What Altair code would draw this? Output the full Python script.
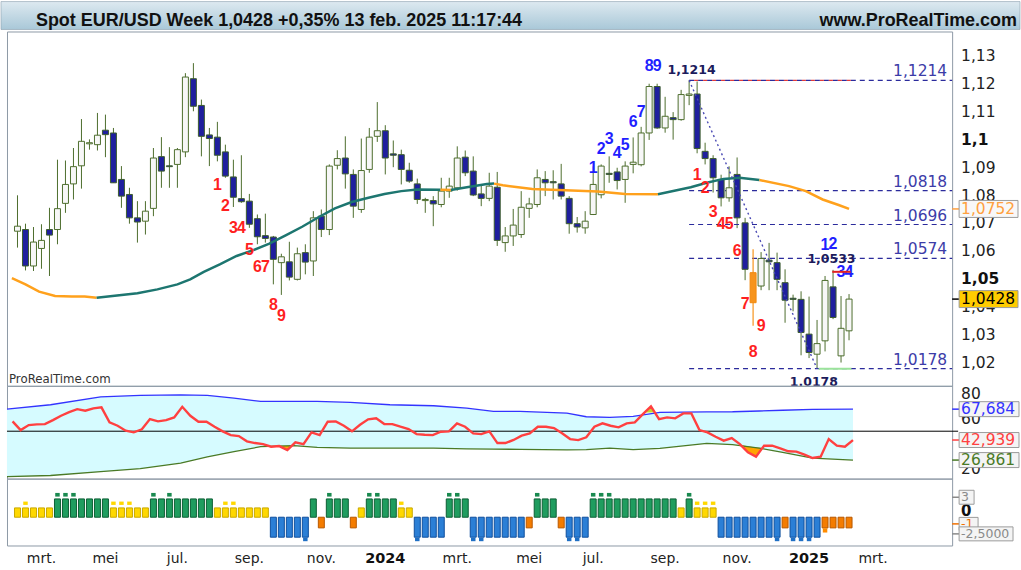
import altair as alt
import pandas as pd

# ---------------- candles (weekly EUR/USD, index 0 = week of 13 feb 2023) ----------------
opens = [1.0672, 1.0678, 1.0547, 1.0610, 1.0678, 1.0678, 1.0772, 1.0842, 1.0907, 1.0986,
         1.0983, 1.1035, 1.1025, 1.0858, 1.0804, 1.0720, 1.0708, 1.0754, 1.0940, 1.0907,
         1.0912, 1.0957, 1.1220, 1.1124, 1.1018, 1.1010, 1.0957, 1.0867, 1.0789, 1.0780,
         1.0717, 1.0656, 1.0651, 1.0559, 1.0562, 1.0499, 1.0595, 1.0565, 1.0726, 1.0678,
         1.0909, 1.0935, 1.0876, 1.0750, 1.0894, 1.1013, 1.1033, 1.0950, 1.0947, 1.0891,
         1.0842, 1.0782, 1.0782, 1.0768, 1.0816, 1.0828, 1.0938, 1.0888, 1.0806, 1.0790,
         1.0830, 1.0631, 1.0655, 1.0660, 1.0754, 1.0768, 1.0858, 1.0850, 1.0842, 1.0790,
         1.0699, 1.0684, 1.0732, 1.0803, 1.0880, 1.0885, 1.0858, 1.0912, 1.0911, 1.1025,
         1.1192, 1.1043, 1.1080, 1.1073, 1.1160, 1.1165, 1.0959, 1.0933, 1.0858, 1.0792,
         1.0876, 1.0702, 1.0523, 1.0475, 1.0568, 1.0559, 1.0487, 1.0431, 1.0427, 1.0302,
         1.0230, 1.0278, 1.0472, 1.0224, 1.0314]
highs = [1.0801, 1.0699, 1.0687, 1.0697, 1.0756, 1.0929, 1.0926, 1.0971, 1.1075, 1.1002,
         1.1097, 1.1091, 1.1043, 1.0906, 1.0828, 1.0780, 1.0780, 1.0971, 1.1010, 1.0974,
         1.0971, 1.1240, 1.1276, 1.1145, 1.1043, 1.1065, 1.0983, 1.0929, 1.0945, 1.0806,
         1.0732, 1.0735, 1.0655, 1.0591, 1.0634, 1.0613, 1.0625, 1.0744, 1.0750, 1.0912,
         1.0963, 1.1013, 1.0894, 1.1005, 1.1043, 1.1136, 1.1053, 1.0998, 1.0965, 1.0918,
         1.0861, 1.0792, 1.0798, 1.0864, 1.0864, 1.0977, 1.0962, 1.0941, 1.0840, 1.0882,
         1.0885, 1.0687, 1.0752, 1.0816, 1.0792, 1.0894, 1.0888, 1.0891, 1.0914, 1.0798,
         1.0723, 1.0744, 1.0905, 1.0912, 1.0941, 1.0900, 1.0923, 1.1009, 1.1047, 1.1202,
         1.1202, 1.1155, 1.1100, 1.1180, 1.1214, 1.1210, 1.0990, 1.0945, 1.0875, 1.0905,
         1.0937, 1.0720, 1.0607, 1.0597, 1.0630, 1.0595, 1.0535, 1.0444, 1.0456, 1.0437,
         1.0353, 1.0511, 1.0533, 1.0439, 1.0446]
lows = [1.0613, 1.0531, 1.0529, 1.0537, 1.0511, 1.0625, 1.0738, 1.0786, 1.0825, 1.0965,
        1.0962, 1.0938, 1.0846, 1.0756, 1.0699, 1.0631, 1.0660, 1.0726, 1.0828, 1.0828,
        1.0828, 1.0938, 1.1103, 1.0941, 1.0906, 1.0923, 1.0864, 1.0759, 1.0774, 1.0684,
        1.0625, 1.0631, 1.0481, 1.0443, 1.0495, 1.0495, 1.0517, 1.0511, 1.0651, 1.0658,
        1.0894, 1.0825, 1.0720, 1.0738, 1.0882, 1.0993, 1.0876, 1.0902, 1.0840, 1.0846,
        1.0770, 1.0738, 1.0690, 1.0758, 1.0792, 1.0818, 1.0870, 1.0798, 1.0762, 1.0780,
        1.0619, 1.0598, 1.0619, 1.0648, 1.0720, 1.0758, 1.0798, 1.0786, 1.0786, 1.0663,
        1.0667, 1.0663, 1.0730, 1.0790, 1.0846, 1.0822, 1.0774, 1.0880, 1.0905, 1.1000,
        1.1040, 1.1026, 1.1001, 1.1069, 1.1125, 1.0952, 1.0912, 1.0811, 1.0761, 1.0778,
        1.0683, 1.0496, 1.0332, 1.0460, 1.0460, 1.0460, 1.0343, 1.0384, 1.0226, 1.0216,
        1.0178, 1.0240, 1.0356, 1.0200, 1.0280]
closes = [1.0690, 1.0547, 1.0633, 1.0639, 1.0658, 1.0753, 1.0840, 1.0904, 1.0995, 1.0990,
          1.1017, 1.1019, 1.0846, 1.0798, 1.0720, 1.0705, 1.0744, 1.0935, 1.0888, 1.0904,
          1.0965, 1.1226, 1.1121, 1.1013, 1.1005, 1.0945, 1.0870, 1.0794, 1.0778, 1.0697,
          1.0652, 1.0646, 1.0571, 1.0580, 1.0507, 1.0591, 1.0561, 1.0720, 1.0678, 1.0906,
          1.0933, 1.0878, 1.0762, 1.0890, 1.1010, 1.1033, 1.0935, 1.0945, 1.0894, 1.0852,
          1.0786, 1.0786, 1.0770, 1.0816, 1.0834, 1.0935, 1.0882, 1.0802, 1.0790, 1.0834,
          1.0639, 1.0655, 1.0694, 1.0758, 1.0770, 1.0864, 1.0846, 1.0846, 1.0798, 1.0699,
          1.0687, 1.0708, 1.0840, 1.0906, 1.0876, 1.0854, 1.0906, 1.0920, 1.1025, 1.1192,
          1.1043, 1.1085, 1.1073, 1.1163, 1.1165, 1.0969, 1.0933, 1.0864, 1.0792, 1.0828,
          1.0720, 1.0535, 1.0415, 1.0574, 1.0562, 1.0499, 1.0424, 1.0427, 1.0308, 1.0236,
          1.0268, 1.0495, 1.0362, 1.0323, 1.0428]
highlight_idx = [92]

# ---------------- moving average ----------------
ma_idx = [-0.7, 1.0, 2.7, 4.7, 6.8, 8.4, 9.9, 15.0, 17.5, 20.0, 21.6, 23.3, 25.3, 27.4, 29.4,
          31.5, 33.6, 35.6, 37.7, 39.7, 41.8, 43.9, 45.9, 48.0, 50.0, 52.9, 54.2, 56.2, 58.7,
          59.6, 60.7, 64.4, 68.5, 72.6, 76.0, 80.1, 84.2, 86.2, 88.3, 90.3, 92.8, 96.5, 98.6,
          100.7, 102.7, 104.0]
ma_val = [1.0503, 1.0481, 1.0455, 1.0439, 1.0437, 1.0437, 1.0433, 1.0449, 1.0463, 1.0481,
          1.0499, 1.0526, 1.0553, 1.0583, 1.0603, 1.0627, 1.0658, 1.0688, 1.0723, 1.0754,
          1.0777, 1.0792, 1.0806, 1.0816, 1.0822, 1.0821, 1.0820, 1.0830, 1.0842, 1.0843,
          1.0837, 1.0824, 1.0819, 1.0815, 1.0806, 1.0805, 1.0830, 1.0846, 1.0860, 1.0864,
          1.0856, 1.0834, 1.0816, 1.0786, 1.0766, 1.0752]
ma_turns = [9.9, 52.9, 54.2, 59.6, 80.1, 92.8]

# ---------------- retracement levels ----------------
level_vals = [1.1214, 1.0818, 1.0696, 1.0574, 1.0178]
level_text = ["1,1214", "1,0818", "1,0696", "1,0574", "1,0178"]
level_start = 84
swing_idx = [84, 100]
swing_val = [1.1214, 1.0178]

# ---------------- sequential counts ----------------
td_idx = [25, 26, 27, 28, 29, 30, 31, 32, 33,
          72, 73, 74, 75, 76, 77, 78, 79, 80,
          85, 86, 87, 88, 89, 90, 91, 92, 93,
          101, 102, 103, 104]
td_txt = ["1", "2", "3", "4", "5", "6", "7", "8", "9",
          "1", "2", "3", "4", "5", "6", "7", "8", "9",
          "1", "2", "3", "4", "5", "6", "7", "8", "9",
          "1", "2", "3", "4"]
td_val = [1.0837, 1.0762, 1.0683, 1.0683, 1.0604, 1.0543, 1.0543, 1.0407, 1.0368,
          1.0898, 1.0967, 1.1002, 1.0952, 1.0981, 1.1063, 1.1099, 1.1264, 1.1264,
          1.0873, 1.0826, 1.0740, 1.0698, 1.0698, 1.0601, 1.0411, 1.0238, 1.0332,
          1.0622, 1.0626, 1.0525, 1.0525]
td_side = ["sell"] * 9 + ["buy"] * 9 + ["sell"] * 9 + ["buy"] * 4

note_idx = [84.3, 101.8]
note_val = [1.1253, 1.0572]
note_txt = ["1,1214", "1,0533"]
low_note_idx = [99.6]
low_note_val = [1.0131]
low_note_txt = ["1,0178"]
risk_idx = [101.9, 104.2]
risk_val = [1.0526, 1.0526]

price_ticks = [1.02, 1.03, 1.04, 1.05, 1.06, 1.07, 1.08, 1.09, 1.1, 1.11, 1.12, 1.13]
price_labels = ["1,02", "1,03", "1,04", "1,05", "1,06", "1,07", "1,08", "1,09", "1,1", "1,11", "1,12", "1,13"]
price_bold = [False, False, False, True, False, False, False, False, True, False, False, False]

month_idx = [3, 11, 20, 29, 38, 46, 55, 64, 72, 81, 90, 99, 107]
month_lab = ["mrt.", "mei", "jul.", "sep.", "nov.", "2024", "mrt.", "mei", "jul.", "sep.", "nov.", "2025", "mrt."]
month_bold = [False, False, False, False, False, True, False, False, False, False, False, True, False]

# ---------------- oscillator panel ----------------
rsi = [57.9, 50.9, 54.9, 55.5, 55.7, 58.9, 62.4, 65.3, 67.7, 66.4,
       68.3, 69.1, 57.1, 54.4, 50.4, 49.1, 51.5, 59.7, 57.9, 58.9,
       61.1, 69.6, 62.4, 57.6, 57.6, 53.6, 49.9, 46.9, 46.1, 41.9,
       40.5, 39.7, 37.6, 38.1, 34.9, 41.1, 39.7, 49.1, 46.9, 57.6,
       57.9, 54.4, 49.9, 55.2, 59.5, 60.3, 55.7, 55.7, 53.6, 51.7,
       47.7, 47.2, 46.9, 49.6, 49.9, 56.3, 53.6, 48.3, 47.7, 49.9,
       40.5, 40.5, 43.0, 46.4, 48.3, 53.6, 53.6, 52.5, 48.3, 43.7,
       42.9, 45.1, 53.6, 56.3, 54.4, 53.1, 56.3, 57.1, 63.7, 69.9,
       59.7, 61.1, 60.3, 64.3, 64.3, 50.9, 49.1, 45.6, 42.4, 44.5,
       39.7, 33.1, 29.6, 38.4, 38.4, 36.3, 33.9, 33.6, 31.2, 28.5,
       29.6, 43.7, 38.4, 37.6, 42.9]
band_idx = [-0.7, 4.7, 10.9, 15.8, 20.8, 24.1, 27.4, 30.7, 34.8, 37.7, 41.8, 46.7, 52.1, 56.2,
            59.5, 62.8, 68.6, 71.0, 73.9, 76.8, 80.1, 85.9, 89.1, 92.4, 95.3, 99.0, 104.0]
band_up = [67.7, 71.2, 77.6, 78.7, 79.2, 78.7, 76.5, 73.9, 73.9, 73.9, 73.1, 71.2, 70.4, 68.5,
           65.9, 65.9, 64.5, 61.6, 61.1, 61.9, 65.1, 65.5, 65.6, 66.2, 66.8, 67.5, 67.7]
band_lo = [13.6, 14.5, 17.6, 20.0, 24.5, 29.5, 33.6, 37.6, 38.4, 37.0, 36.5, 36.5, 36.5, 35.8,
           35.6, 35.5, 35.0, 35.2, 36.5, 35.2, 36.3, 40.3, 39.2, 36.5, 33.1, 28.5, 26.9]
under_idx = [33.1, 34.0, 34.6, 90.1, 91.0, 92.0, 92.8]
under_band = [38.3, 38.4, 38.4, 39.0, 38.0, 37.0, 36.6]
under_rsi = [38.3, 34.9, 38.4, 39.0, 33.1, 29.6, 36.6]
under_zone = [1, 1, 1, 2, 2, 2, 2]
over_idx = [78.3, 79.0, 79.5]
over_band = [65.0, 65.0, 65.1]
over_rsi = [65.0, 69.9, 65.1]
osc_ticks = [20, 40, 60, 80]
osc_label_ticks = [20, 60, 80]

# ---------------- trend histogram ----------------
hist_codes = ["Y", "Yd", "Y", "Y", "Y", "Gd", "Gd", "Gd", "G", "G",
              "G", "G", "Yd", "Yd", "Yd", "Y", "Y", "Gd", "G", "Gd",
              "G", "G", "G", "G", "G", "Y", "Yd", "Yd", "Y", "Y",
              "Y", "Y", "B", "B", "B", "B", "Bd", "G", "O", "Gd",
              "G", "G", "O", "Y", "Gd", "Gd", "G", "G", "Yd", "Y",
              "Bd", "B", "B", "B", "Gd", "Gd", "G", "Bd", "Bd", "B",
              "B", "B", "B", "B", "O", "Gd", "G", "G", "O", "Bd",
              "Bd", "B", "Gd", "Gd", "Gd", "G", "G", "G", "G", "G",
              "G", "G", "G", "Y", "Gd", "Yd", "Yd", "Yd", "B", "B",
              "B", "B", "B", "B", "B", "Bd", "O", "Bd", "Bd", "Bd",
              "B", "Od", "O", "O", "O"]
bar_level = {"Y": 1.4, "G": 2.75, "B": -3.0, "O": -1.6}
dot_from = {"Y": 1.85, "G": 3.1, "B": -3.05, "O": -1.65}
dot_to = {"Y": 2.35, "G": 3.65, "B": -3.6, "O": -2.3}

# ---------------- layout / style ----------------
W = 947
H1, H2, H3 = 355, 93, 67
X_DOM = [-0.69, 116.27]
P_DOM = [1.01164, 1.13897]
R_DOM = [12.0, 86.4]
S_DOM = [-4.245, 5.8]
UI = "DejaVu Sans"
SANS = "Liberation Sans"
GRID = "#e3e3e3"
TICK = "#8a8a8a"

xs = alt.Scale(domain=X_DOM, nice=False, zero=False)
ps = alt.Scale(domain=P_DOM, nice=False, zero=False)
rs = alt.Scale(domain=R_DOM, nice=False, zero=False)
ss = alt.Scale(domain=S_DOM, nice=False, zero=False)


def X(f="i", axis=None):
    return alt.X(f + ":Q", scale=xs, axis=axis)


def YP(f, axis=None):
    return alt.Y(f + ":Q", scale=ps, axis=axis)


def YR(f, axis=None):
    return alt.Y(f + ":Q", scale=rs, axis=axis)


def YS(f, axis=None):
    return alt.Y(f + ":Q", scale=ss, axis=axis)


def xaxis(ticks=False):
    return alt.Axis(values=month_idx, grid=True, gridColor=GRID, labels=False, ticks=ticks,
                    tickSize=5, tickColor=TICK, domain=False, title=None)


def yaxis(vals):
    return alt.Axis(orient="right", values=vals, grid=True, gridColor=GRID, labels=False, ticks=True,
                    tickSize=5, tickColor=TICK, domain=False, title=None)


def value_box(yfn, val, txt, tcolor, fill, bw, fs=15.5, hh=8.5):
    d = pd.DataFrame({"v": [val], "t": [txt]})
    b = alt.Chart(d)
    return [
        b.mark_rule(color=tcolor, strokeWidth=1.5).encode(x=alt.value(W), x2=alt.value(W + 7), y=yfn("v")),
        b.mark_rect(fill=fill, stroke="#9c9c9c", strokeWidth=1, yOffset=-hh, y2Offset=hh).encode(
            x=alt.value(W + 7), x2=alt.value(W + 7 + bw), y=yfn("v"), y2="v:Q"),
        b.mark_text(font=UI, fontSize=fs, align="left", baseline="middle", color=tcolor).encode(
            x=alt.value(W + 9), y=yfn("v"), text="t:N"),
    ]


one = pd.DataFrame({"k": [0]})

# ================= main price panel =================
cdf = pd.DataFrame({"i": list(range(len(opens))), "open": opens, "high": highs, "low": lows, "close": closes})
cdf["kind"] = ["hl" if i in highlight_idx else ("up" if c >= o else "down")
               for i, o, c in zip(cdf["i"], cdf["open"], cdf["close"])]
normal = cdf[cdf["kind"] != "hl"]
upc = cdf[cdf["kind"] == "up"]
dnc = cdf[cdf["kind"] == "down"]
hlc = cdf[cdf["kind"] == "hl"]

rows = []
seg = 0
for i, v in zip(ma_idx, ma_val):
    rows.append({"i": i, "v": v, "seg": seg})
    if i in ma_turns:
        seg += 1
        rows.append({"i": i, "v": v, "seg": seg})
madf = pd.DataFrame(rows)
madf["dir"] = ["down" if s % 2 == 0 else "up" for s in madf["seg"]]

title_bar = alt.Chart(one).mark_rect(
    color=alt.Gradient(gradient="linear", stops=[alt.GradientStop(color="#dde9f0", offset=0),
                                                   alt.GradientStop(color="#a9c8d8", offset=1)],
                       x1=0, x2=0, y1=0, y2=1),
    stroke="#8aa0ad", strokeWidth=0.6).encode(x=alt.value(-6), x2=alt.value(1015), y=alt.value(-30), y2=alt.value(-2))
title_txt = alt.Chart(one).mark_text(text="Spot EUR/USD Week 1,0428 +0,35% 13 feb. 2025 11:17:44", font=SANS,
                                     fontSize=18, fontWeight="bold", align="left", baseline="alphabetic",
                                     color="#111111").encode(x=alt.value(29), y=alt.value(-6))
site_txt = alt.Chart(one).mark_text(text="www.ProRealTime.com", font=SANS, fontSize=18, fontWeight="bold",
                                    align="right", baseline="alphabetic", color="#111111").encode(
    x=alt.value(1012), y=alt.value(-6))

wick = alt.Chart(normal).mark_rule(color="#4d6d2d", strokeWidth=1).encode(
    x=X("i", xaxis()), y=YP("low", yaxis(price_ticks)), y2="high:Q")
wick_hl = alt.Chart(hlc).mark_rule(color="#f7941d", strokeWidth=1.2).encode(x=X(), y=YP("low"), y2="high:Q")
body_up = alt.Chart(upc).mark_bar(size=6, fill="#f7f7f7", stroke="#4d6d2d", strokeWidth=1).encode(
    x=X(), y=YP("open"), y2="close:Q")
body_dn = alt.Chart(dnc).mark_bar(size=6, fill="#1f1f9e", stroke="#3d5d2d", strokeWidth=1).encode(
    x=X(), y=YP("open"), y2="close:Q")
body_hl = alt.Chart(hlc).mark_bar(size=6, fill="#f7941d", stroke="#f08a10", strokeWidth=1).encode(
    x=X(), y=YP("open"), y2="close:Q")

ma_line = alt.Chart(madf).mark_line(strokeWidth=2.5, clip=True).encode(
    x=X(), y=YP("v"),
    color=alt.Color("dir:N", scale=alt.Scale(domain=["down", "up"], range=["#ffa11c", "#1d7670"]), legend=None),
    detail="seg:N", order="i:Q")

ldf = pd.DataFrame({"v": level_vals, "t": level_text, "i0": [level_start] * len(level_vals)})
lev_lines = alt.Chart(ldf).mark_rule(color="#2b2b9c", strokeDash=[5, 4], strokeWidth=1.2).encode(
    x=X("i0"), x2=alt.value(W), y=YP("v"))
top_over = alt.Chart(pd.DataFrame({"i0": [84], "i1": [104.4], "v": [1.1214]})).mark_rule(
    color="#e03a3a", strokeDash=[4, 5], strokeDashOffset=-5, strokeWidth=1.2).encode(x=X("i0"), x2="i1:Q", y=YP("v"))
low_over = alt.Chart(pd.DataFrame({"i0": [100.2], "i1": [104.3], "v": [1.0178]})).mark_rule(
    color="#9be39b", strokeWidth=2).encode(x=X("i0"), x2="i1:Q", y=YP("v"))
lev_lab = alt.Chart(ldf).mark_text(font=UI, fontSize=15.5, align="right", baseline="bottom", dy=-1,
                                   color="#3c3ca8").encode(x=alt.value(W - 5), y=YP("v"), text="t:N")

swing = alt.Chart(pd.DataFrame({"i": swing_idx, "v": swing_val})).mark_line(
    color="#4a4ab4", strokeDash=[2, 3], strokeWidth=1.4).encode(x=X(), y=YP("v"))

tdf = pd.DataFrame({"i": td_idx, "v": td_val, "t": td_txt, "side": td_side})
td_red = alt.Chart(tdf[tdf["side"] == "sell"]).mark_text(font=SANS, fontSize=16, fontWeight="bold",
                                                         color="#ff1f1f", baseline="middle").encode(
    x=X(), y=YP("v"), text="t:N")
td_blue = alt.Chart(tdf[tdf["side"] == "buy"]).mark_text(font=SANS, fontSize=16, fontWeight="bold",
                                                         color="#1f1fff", baseline="middle").encode(
    x=X(), y=YP("v"), text="t:N")
risk = alt.Chart(pd.DataFrame({"i": risk_idx, "v": risk_val})).mark_line(color="#e02020", strokeWidth=2).encode(
    x=X(), y=YP("v"))

notes = alt.Chart(pd.DataFrame({"i": note_idx, "v": note_val, "t": note_txt})).mark_text(
    font=UI, fontSize=12.5, fontWeight="bold", color="#1c1c5c", baseline="middle").encode(x=X(), y=YP("v"), text="t:N")
low_note = alt.Chart(pd.DataFrame({"i": low_note_idx, "v": low_note_val, "t": low_note_txt})).mark_text(
    font=UI, fontSize=12.5, fontWeight="bold", color="#1c1c5c", baseline="middle", clip=True).encode(
    x=X(), y=YP("v"), text="t:N")

pdf = pd.DataFrame({"v": price_ticks, "t": price_labels, "b": price_bold})
plab_n = alt.Chart(pdf[~pdf["b"]]).mark_text(font=UI, fontSize=15.5, align="left", baseline="middle",
                                            color="#222222").encode(x=alt.value(W + 9), y=YP("v"), text="t:N")
plab_b = alt.Chart(pdf[pdf["b"]]).mark_text(font=UI, fontSize=15.5, fontWeight="bold", align="left",
                                           baseline="middle", color="#111111").encode(x=alt.value(W + 9), y=YP("v"), text="t:N")

water = alt.Chart(one).mark_text(text="ProRealTime.com", font=UI, fontSize=11.8, align="left", baseline="middle",
                                 color="#333333").encode(x=alt.value(2), y=alt.value(H1 - 7))

main_layers = [wick, lev_lines, top_over, low_over, wick_hl, body_up, body_dn, body_hl, ma_line, swing,
               td_red, td_blue, risk, notes, low_note, lev_lab, plab_n, plab_b, water,
               title_bar, title_txt, site_txt]
main_layers += value_box(YP, 1.0752, "1,0752", "#ffa040", "#f8f8f8", 59)
main_layers += value_box(YP, 1.0428, "1,0428", "#000000", "#ffcc00", 59)
main = alt.layer(*main_layers).properties(width=W, height=H1)

# ================= oscillator panel =================
bdf = pd.DataFrame({"i": band_idx, "up": band_up, "lo": band_lo})
rdf = pd.DataFrame({"i": list(range(len(rsi))), "v": rsi})
udf = pd.DataFrame({"i": under_idx, "a": under_band, "b": under_rsi, "z": under_zone})
odf = pd.DataFrame({"i": over_idx, "a": over_band, "b": over_rsi})

band_area = alt.Chart(bdf).mark_area(color="#d6fbff", clip=True).encode(
    x=X("i", xaxis()), y=YR("up", yaxis(osc_ticks)), y2="lo:Q")
under_fill = alt.Chart(udf).mark_area(color="#ffa500").encode(x=X(), y=YR("a"), y2="b:Q", detail="z:N")
over_fill = alt.Chart(odf).mark_area(color="#c3d62e").encode(x=X(), y=YR("a"), y2="b:Q")
mid = alt.Chart(pd.DataFrame({"v": [50]})).mark_rule(color="#000000", strokeWidth=1).encode(
    x=alt.value(0), x2=alt.value(W + 6), y=YR("v"))
up_line = alt.Chart(bdf).mark_line(color="#3333ff", strokeWidth=1.3, clip=True).encode(x=X(), y=YR("up"))
lo_line = alt.Chart(bdf).mark_line(color="#4a7a26", strokeWidth=1.3, clip=True).encode(x=X(), y=YR("lo"))
rsi_line = alt.Chart(rdf).mark_line(color="#ff4040", strokeWidth=2.4).encode(x=X(), y=YR("v"))
olab = alt.Chart(pd.DataFrame({"v": osc_label_ticks, "t": [str(t) for t in osc_label_ticks]})).mark_text(
    font=UI, fontSize=15.5, align="left", baseline="middle", color="#222222").encode(
    x=alt.value(W + 9), y=YR("v"), text="t:N")
osc_layers = [band_area, under_fill, over_fill, mid, up_line, lo_line, rsi_line, olab]
osc_layers += value_box(YR, 67.684, "67,684", "#3333ff", "#f4f4f4", 60, hh=7.5)
osc_layers += value_box(YR, 42.939, "42,939", "#ff4040", "#f4f4f4", 60, hh=7.5)
osc_layers += value_box(YR, 26.861, "26,861", "#4a7a26", "#f4f4f4", 60, hh=7.5)
osc = alt.layer(*osc_layers).properties(width=W, height=H2)

# ================= histogram panel =================
hdf = pd.DataFrame({"i": list(range(len(hist_codes))), "code": hist_codes})
hdf["c"] = hdf["code"].str[0]
hdf["dot"] = hdf["code"].str.len() > 1
hdf["v"] = hdf["c"].map(bar_level)
hdf["z"] = 0.0
hdf["d0"] = hdf["c"].map(dot_from)
hdf["d1"] = hdf["c"].map(dot_to)

styles = {"Y": ("#ffd800", "#c9a800", "#ffd800"),
          "G": ("#1f9d5f", "#0d5e34", "#1a8a50"),
          "B": ("#2b7fd6", "#0f4e9c", "#1f6fc4"),
          "O": ("#f47c00", "#b85800", "#ff8c00")}
hist_layers = [alt.Chart(pd.DataFrame({"v": [0.0]})).mark_rule(color="#dddddd").encode(
    x=X("v", xaxis(True)), y=YS("v", yaxis([0])), opacity=alt.value(0))]
for c, (fc, sc, dc) in styles.items():
    sub = hdf[hdf["c"] == c]
    hist_layers.append(alt.Chart(sub).mark_bar(size=6, fill=fc, stroke=sc, strokeWidth=1).encode(
        x=X(), y=YS("z"), y2="v:Q"))
    subd = sub[sub["dot"]]
    hist_layers.append(alt.Chart(subd).mark_bar(size=4.5, color=dc).encode(x=X(), y=YS("d0"), y2="d1:Q"))

zero_lab = alt.Chart(pd.DataFrame({"v": [0.0], "t": ["0"]})).mark_text(
    font=UI, fontSize=15, fontWeight="bold", align="left", baseline="bottom", dy=2, color="#111111").encode(
    x=alt.value(W + 9), y=YS("v"), text="t:N")
hist_layers.append(zero_lab)
hist_layers += value_box(YS, 3.0, "3", "#8a8a8a", "#f4f4f4", 15, fs=12.5, hh=7)
hist_layers += value_box(YS, -1.0, "-1", "#f07000", "#f4f4f4", 19, fs=12.5, hh=6.5)
hist_layers += value_box(YS, -2.5, "-2,5000", "#8a8a8a", "#f4f4f4", 54, fs=12.5, hh=7)

mdf = pd.DataFrame({"i": month_idx, "t": month_lab, "b": month_bold})
hist_layers.append(alt.Chart(mdf[~mdf["b"]]).mark_text(font=UI, fontSize=14, align="center", baseline="middle",
                                                       color="#222222").encode(x=X(), y=alt.value(H3 + 14), text="t:N"))
hist_layers.append(alt.Chart(mdf[mdf["b"]]).mark_text(font=UI, fontSize=14.5, fontWeight="bold", align="center",
                                                      baseline="middle", color="#111111").encode(
    x=X(), y=alt.value(H3 + 14), text="t:N"))
hist = alt.layer(*hist_layers).properties(width=W, height=H3)

chart = alt.vconcat(main, osc, hist, spacing=0, bounds="flush").properties(
    padding=0, background="white").configure_view(stroke="#8e9aa6", strokeWidth=1)

chart.save("out.html", embed_options={"renderer": "svg", "actions": False})
